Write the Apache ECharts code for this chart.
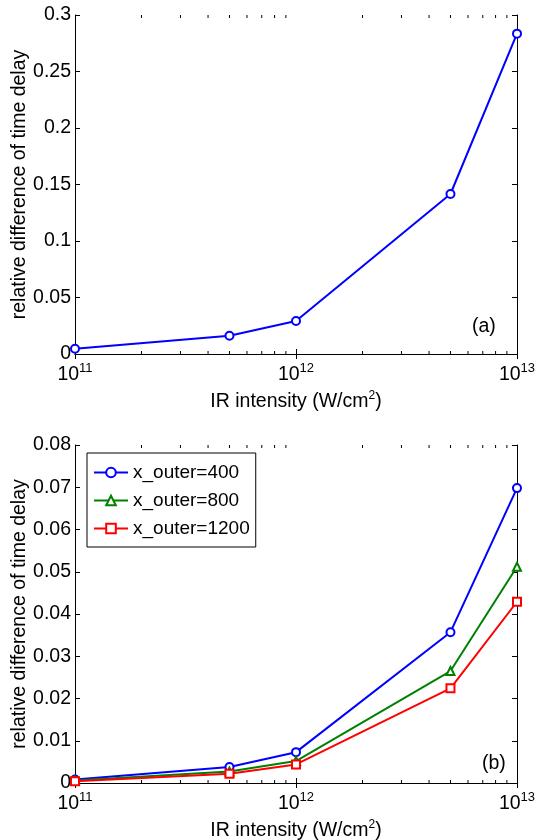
<!DOCTYPE html>
<html><head><meta charset="utf-8">
<script src="https://cdn.jsdelivr.net/npm/echarts@6/dist/echarts.min.js"></script>
<style>html,body{margin:0;padding:0;background:#fff}#c{width:535px;height:840px}</style>
</head><body><div id="c"></div>
<script>
const intensities = [1e11, 5e11, 1e12, 5e12, 1e13];
const topValues = [0.0047, 0.0162, 0.0292, 0.1416, 0.2835];
const names = ['x_outer=400', 'x_outer=800', 'x_outer=1200'];
const blueValues = [0.0008, 0.0038, 0.0073, 0.0357, 0.0698];
const greenValues = [0.0006, 0.0027, 0.0052, 0.0265, 0.0512];
const redValues = [0.0004, 0.0022, 0.0044, 0.0224, 0.0429];
const minorTicks = [2e11,3e11,4e11,5e11,6e11,7e11,8e11,9e11,2e12,3e12,4e12,5e12,6e12,7e12,8e12,9e12];
const topYMax = 0.3, topYStep = 0.05;
const botYMax = 0.08, botYStep = 0.01;

const FONT = 'Liberation Sans, Arial, Helvetica, sans-serif';
const FS = 19.5;
const chart = echarts.init(document.getElementById('c'));

function xAxes(gi) {
  const base = {
    type: 'log', logBase: 10, min: 1e11, max: 1e13, gridIndex: gi,
    axisLine: {show: true, lineStyle: {color: '#000', width: 1}},
    axisTick: {show: true, inside: true, length: 5, lineStyle: {color: '#000'}},
    splitLine: {show: false}
  };
  return [
    Object.assign({}, base, {
      position: 'bottom',
      name: 'IR intensity (W/cm{sup|2})', nameLocation: 'middle', nameGap: 36,
      nameMoveOverlap: false,
      nameTextStyle: {fontFamily: FONT, fontSize: FS, color: '#000',
        rich: {sup: {fontSize: 12, verticalAlign: 'top', padding: [0,0,11,0], fontFamily: FONT, color:'#000'}}},
      axisLabel: {
        margin: 8, color: '#000', fontFamily: FONT, fontSize: FS,
        formatter: v => '10{s|' + Math.round(Math.log10(v)) + '}',
        rich: {s: {fontSize: 13, padding: [0,0,13,0], fontFamily: FONT, color:'#000'}}
      }
    }),
    Object.assign({}, base, {position: 'top', axisLabel: {show: false}})
  ];
}
function yAxes(gi, max, step) {
  const base = {
    type: 'value', min: 0, max: max, interval: step, gridIndex: gi,
    axisLine: {show: true, lineStyle: {color: '#000', width: 1}},
    axisTick: {show: true, inside: true, length: 5, lineStyle: {color: '#000'}},
    splitLine: {show: false}
  };
  return [
    Object.assign({}, base, {
      position: 'left',
      name: 'relative difference of time delay', nameLocation: 'middle', nameGap: 45,
      nameMoveOverlap: false,
      nameTextStyle: {fontFamily: FONT, fontSize: FS, color: '#000'},
      axisLabel: {margin: 4, color: '#000', fontFamily: FONT, fontSize: FS}
    }),
    Object.assign({}, base, {position: 'right', axisLabel: {show: false}})
  ];
}
function minorSeries(xi, yi, ymax) {
  return {
    type: 'custom', xAxisIndex: xi, yAxisIndex: yi, silent: true, clip: false,
    data: minorTicks.map(v => [v]),
    renderItem: (params, api) => {
      const b = api.coord([api.value(0), 0]);
      const t = api.coord([api.value(0), ymax]);
      const st = {stroke: '#000', lineWidth: 1};
      return {type: 'group', children: [
        {type: 'line', shape: {x1: b[0], y1: b[1], x2: b[0], y2: b[1] - 3}, style: st},
        {type: 'line', shape: {x1: t[0], y1: t[1], x2: t[0], y2: t[1] + 3}, style: st}
      ]};
    }
  };
}
function lineSeries(name, vals, color, symbol, xi, yi) {
  return {
    name: name, type: 'line', xAxisIndex: xi, yAxisIndex: yi,
    data: intensities.map((x, i) => [x, vals[i]]),
    symbol: symbol, symbolSize: 8,
    showAllSymbol: true,
    lineStyle: {color: color, width: 2},
    itemStyle: {color: color, borderColor: color, borderWidth: 1.8},
    animation: false
  };
}

chart.setOption({
  animation: false,
  backgroundColor: '#fff',
  grid: [
    {left: 75, top: 15, width: 442, height: 339, containLabel: false, outerBoundsMode: 'none'},
    {left: 75, top: 445, width: 442, height: 338, containLabel: false, outerBoundsMode: 'none'}
  ],
  xAxis: xAxes(0).concat(xAxes(1)),
  yAxis: yAxes(0, topYMax, topYStep).concat(yAxes(1, botYMax, botYStep)),
  legend: {
    data: names, orient: 'vertical', left: 87, top: 453,
    borderColor: '#000', borderWidth: 1, backgroundColor: '#fff',
    padding: [10, 6, 9, 6], itemWidth: 34, itemHeight: 12, itemGap: 9,
    textStyle: {fontFamily: FONT, fontSize: 19, color: '#000'}
  },
  graphic: [
    {type: 'text', left: 472, top: 317, style: {text: '(a)', font: FS + 'px ' + FONT, fill: '#000'}},
    {type: 'text', left: 482, top: 754, style: {text: '(b)', font: FS + 'px ' + FONT, fill: '#000'}}
  ],
  series: [
    minorSeries(0, 0, topYMax),
    minorSeries(2, 2, botYMax),
    lineSeries('top', topValues, '#0000FF', 'emptyCircle', 0, 0),
    lineSeries(names[0], blueValues, '#0000FF', 'emptyCircle', 2, 2),
    lineSeries(names[1], greenValues, '#008000', 'emptyTriangle', 2, 2),
    lineSeries(names[2], redValues, '#FF0000', 'emptyRect', 2, 2)
  ]
});
</script></body></html>
